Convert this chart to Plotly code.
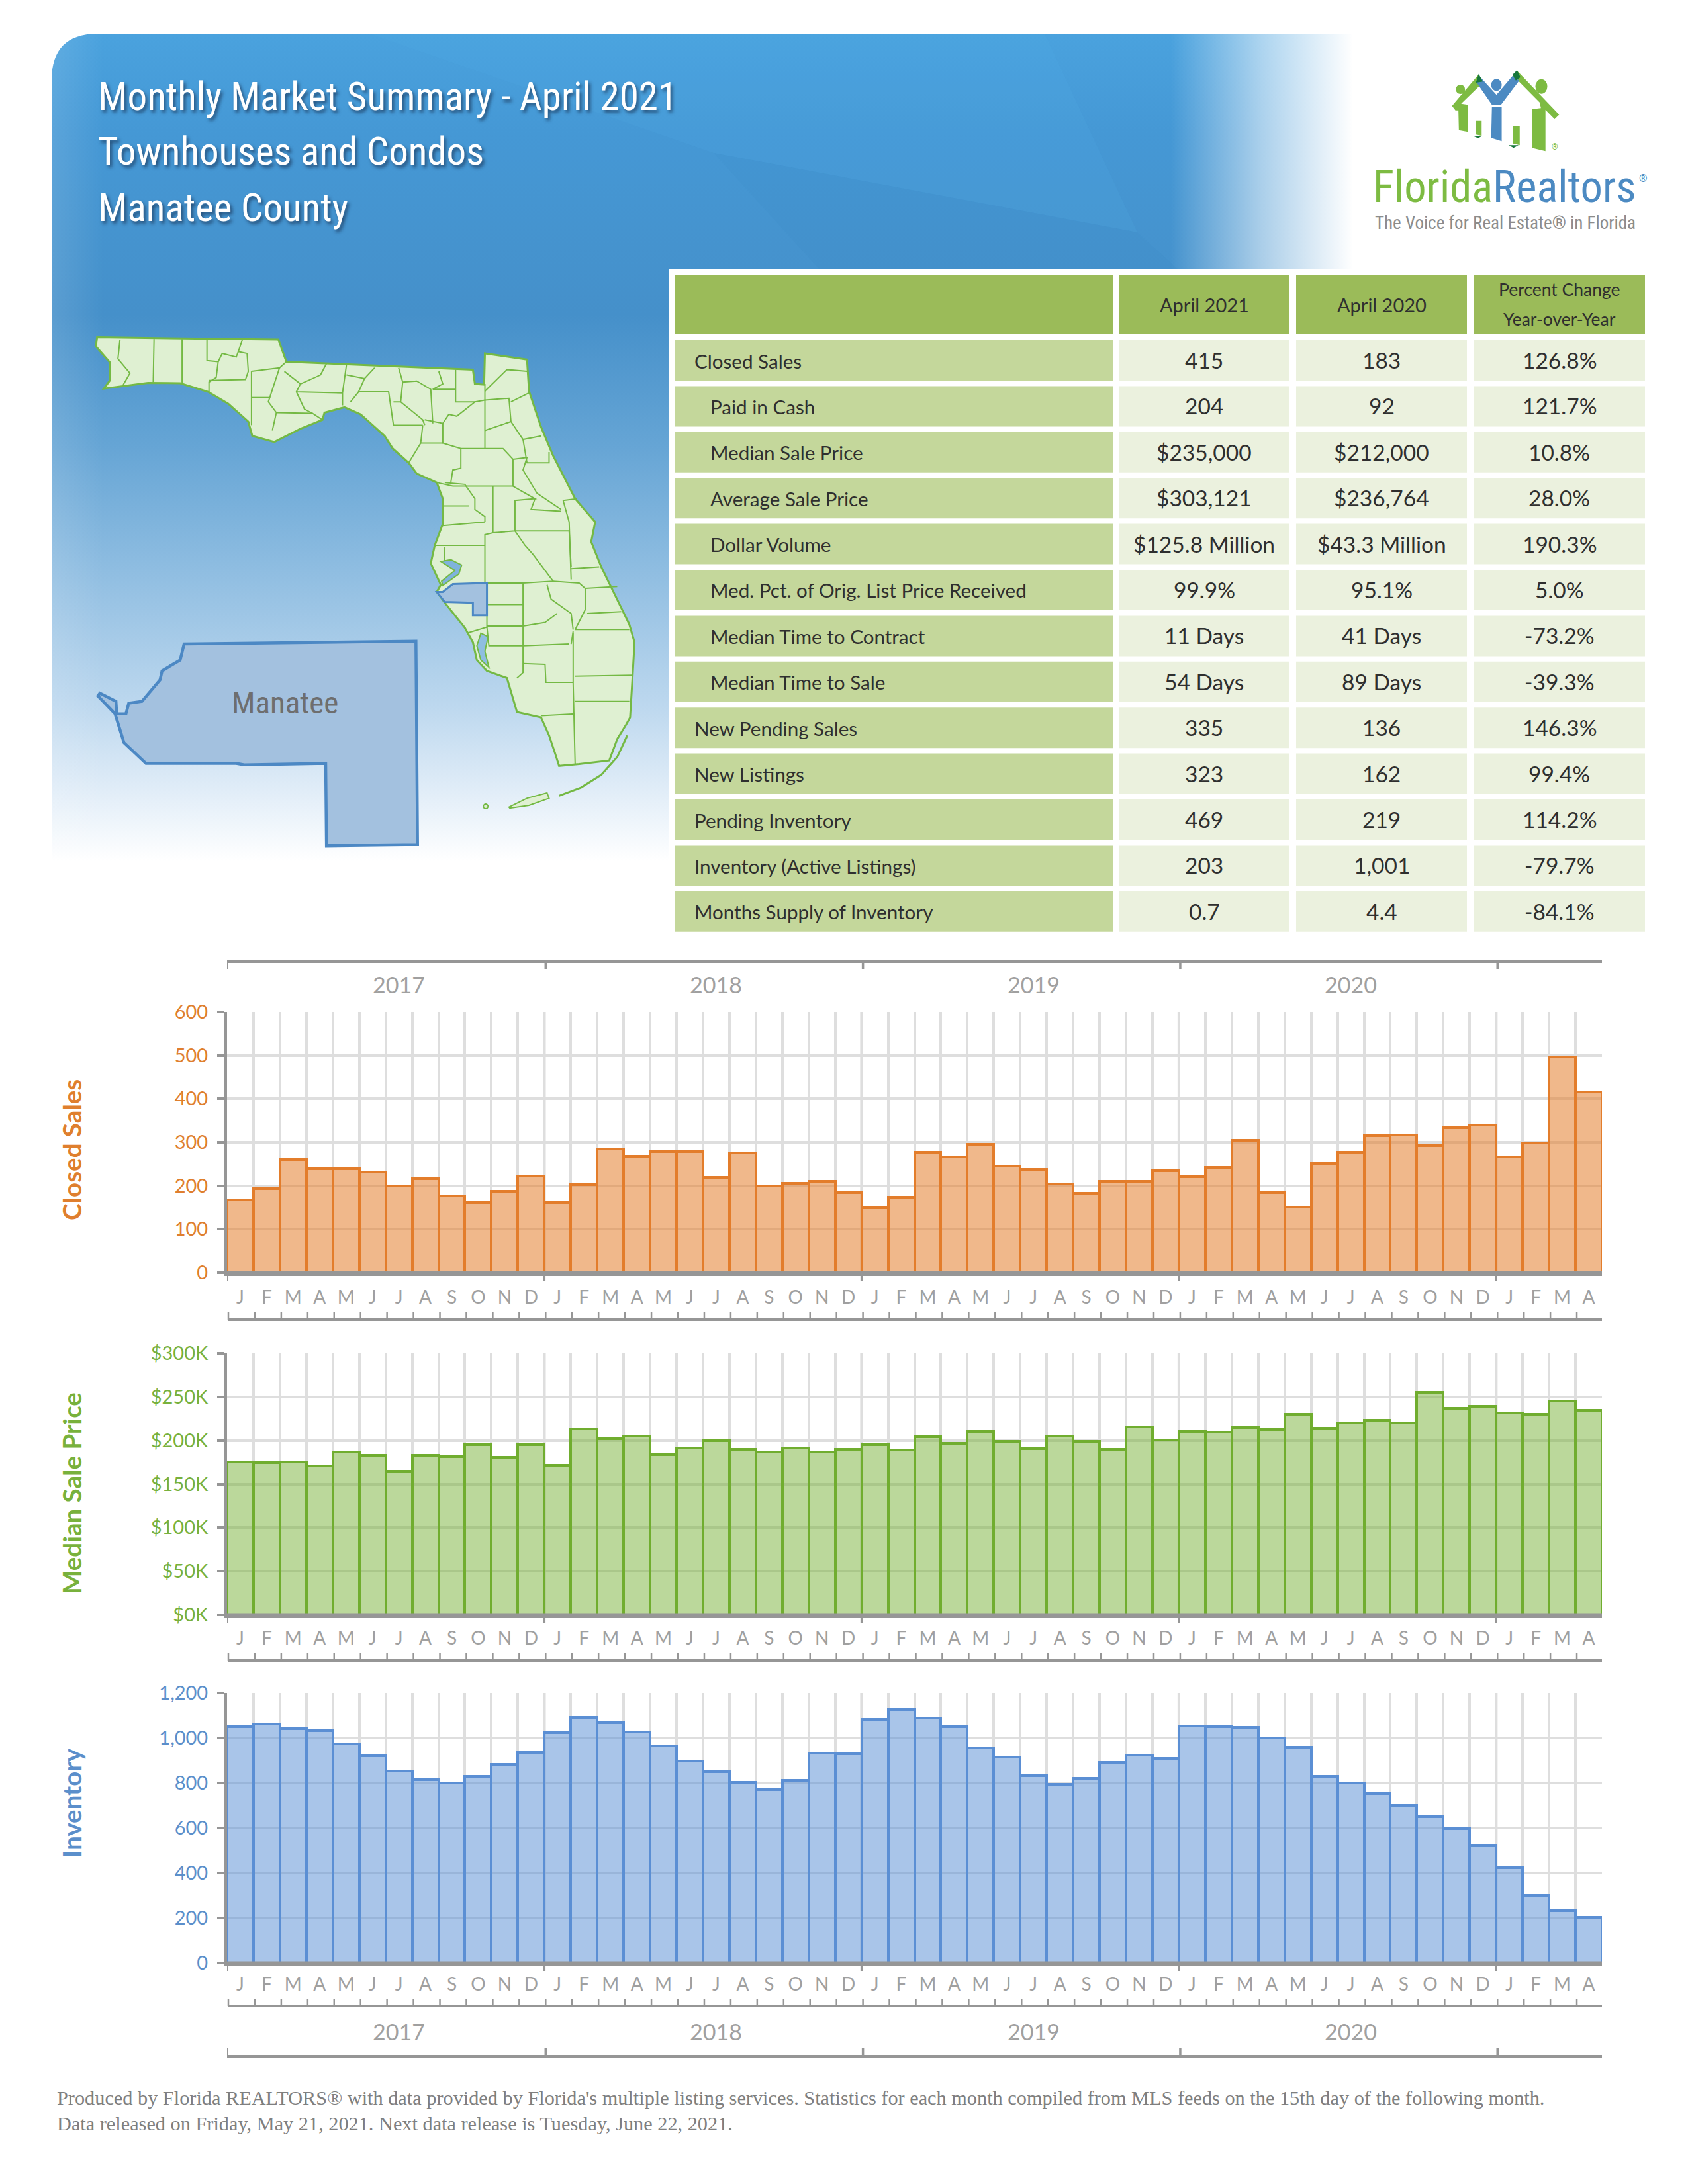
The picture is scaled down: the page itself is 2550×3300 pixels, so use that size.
import base64

import plotly.graph_objects as go

WIDTH = 2550
HEIGHT = 3300

YEARS = ["2017", "2018", "2019", "2020"]
MONTH_LETTERS = ["J", "F", "M", "A", "M", "J", "J", "A", "S", "O", "N", "D"]
MONTH_LETTERS_2021 = ["J", "F", "M", "A"]

closed_sales = [168, 193, 261, 239, 239, 232, 200, 217, 176, 162, 187, 222,
                161, 203, 285, 268, 278, 278, 219, 275, 200, 206, 210, 184,
                149, 174, 277, 267, 296, 245, 238, 204, 182, 210, 210, 234,
                221, 242, 305, 184, 151, 252, 277, 315, 316, 292, 333, 340,
                267, 299, 496, 415]
median_price = [175500, 175000, 175500, 171000, 186500, 183000, 165000, 183000, 181500, 195000, 181000, 195000,
                172000, 213500, 202000, 205000, 184000, 191500, 200000, 190000, 187000, 191500, 186500, 190000,
                195000, 189000, 204000, 197000, 210500, 199000, 191000, 205000, 199000, 190000, 215500, 200500,
                210500, 210000, 215000, 212500, 230000, 214000, 220000, 223000, 220000, 255000, 237000, 239000,
                231500, 230000, 245000, 235000]
inventory = [1050, 1061, 1040, 1031, 974, 922, 853, 814, 799, 829, 881, 935,
             1025, 1092, 1067, 1026, 964, 896, 850, 803, 772, 811, 932, 929,
             1081, 1126, 1087, 1050, 956, 915, 832, 794, 822, 890, 924, 910,
             1053, 1051, 1047, 1001, 960, 829, 799, 753, 701, 649, 596, 522,
             425, 301, 231, 203]

closed_ticks = [0, 100, 200, 300, 400, 500, 600]
closed_tick_labels = ["0", "100", "200", "300", "400", "500", "600"]
price_ticks = [0, 50000, 100000, 150000, 200000, 250000, 300000]
price_tick_labels = ["$0K", "$50K", "$100K", "$150K", "$200K", "$250K", "$300K"]
inventory_ticks = [0, 200, 400, 600, 800, 1000, 1200]
inventory_tick_labels = ["0", "200", "400", "600", "800", "1,000", "1,200"]

table_headers = ["April 2021", "April 2020", "Percent Change<br>Year-over-Year"]
table_labels = ["Closed Sales", "Paid in Cash", "Median Sale Price", "Average Sale Price", "Dollar Volume",
                "Med. Pct. of Orig. List Price Received", "Median Time to Contract", "Median Time to Sale",
                "New Pending Sales", "New Listings", "Pending Inventory", "Inventory (Active Listings)",
                "Months Supply of Inventory"]
table_indented = [False, True, True, True, True, True, True, True, False, False, False, False, False]
table_2021 = ["415", "204", "$235,000", "$303,121", "$125.8 Million", "99.9%", "11 Days", "54 Days",
              "335", "323", "469", "203", "0.7"]
table_2020 = ["183", "92", "$212,000", "$236,764", "$43.3 Million", "95.1%", "41 Days", "89 Days",
              "136", "162", "219", "1,001", "4.4"]
table_change = ["126.8%", "121.7%", "10.8%", "28.0%", "190.3%", "5.0%", "-73.2%", "-39.3%",
                "146.3%", "99.4%", "114.2%", "-79.7%", "-84.1%"]

title_lines = ["Monthly Market Summary - April 2021", "Townhouses and Condos", "Manatee County"]
footer_lines = ["Produced by Florida REALTORS® with data provided by Florida's multiple listing services. "
                "Statistics for each month compiled from MLS feeds on the 15th day of the following month.",
                "Data released on Friday, May 21, 2021. Next data release is Tuesday, June 22, 2021."]

# month keys have to be unique, the axis shows the letters instead
month_keys = [f"{y}-{i}" for y in YEARS for i in range(12)] + [f"2021-{i}" for i in range(4)]
month_letters = MONTH_LETTERS * 4 + MONTH_LETTERS_2021

NARROW = "Roboto Condensed"
GRAY = "#A0A0A0"
AXIS_GRAY = "#969696"


def px(x):
    return x / WIDTH


def py(y):
    return 1 - y / HEIGHT


def path_from(points, closed=True):
    d = "M " + " L ".join(f"{px(x):.5f},{py(y):.5f}" for x, y in points)
    return d + (" Z" if closed else "")


# trace coordinates below were taken from crops, these put them back on the page
def map_xy(points):
    return [(60 + x / 1.6505, 450 + y / 1.845) for x, y in points]


def logo_xy(points):
    return [(1980 + x / 2.904, 60 + y / 3.0) for x, y in points]


shapes = []
annotations = []


def add_text(x, y, text, size, color, font=NARROW, anchor="left", **kw):
    font_kw = dict(family=font, size=size, color=color)
    font_kw.update(kw.pop("font_extra", {}))
    annotations.append(dict(x=px(x), y=py(y), xref="paper", yref="paper", text=text, showarrow=False,
                            xanchor=anchor, yanchor="middle", font=font_kw, **kw))


def add_poly(points, fill, line=None, width=0, closed=True):
    shapes.append(dict(type="path", path=path_from(points, closed), xref="paper", yref="paper",
                       fillcolor=fill if closed else "rgba(0,0,0,0)",
                       line=dict(color=line or "rgba(0,0,0,0)", width=width), layer="above"))


def add_rect(x0, y0, x1, y1, fill):
    shapes.append(dict(type="rect", xref="paper", yref="paper", x0=px(x0), x1=px(x1), y0=py(y0), y1=py(y1),
                       fillcolor=fill, line=dict(width=0), layer="above"))


def add_oval(cx, cy, rx, ry, fill, line=None, width=0):
    shapes.append(dict(type="circle", xref="paper", yref="paper", x0=px(cx - rx), x1=px(cx + rx),
                       y0=py(cy + ry), y1=py(cy - ry), fillcolor=fill,
                       line=dict(color=line or "rgba(0,0,0,0)", width=width), layer="above"))


# ---- header panel, gradient is easiest as an svg image
panel_svg = """<svg xmlns="http://www.w3.org/2000/svg" width="1966" height="1250" viewBox="0 0 1966 1250">
<defs>
<linearGradient id="v" x1="0" y1="0" x2="0" y2="1">
<stop offset="0" stop-color="#4AA2DE"/><stop offset="0.12" stop-color="#4598D5"/>
<stop offset="0.34" stop-color="#4590CA"/><stop offset="0.5" stop-color="#66A5D5"/>
<stop offset="0.66" stop-color="#92BFE2"/><stop offset="0.82" stop-color="#BFD9EF"/>
<stop offset="0.93" stop-color="#E6F0F9"/><stop offset="1" stop-color="#FFFFFF"/>
</linearGradient>
<linearGradient id="h" x1="0" y1="0" x2="1" y2="0">
<stop offset="0.86" stop-color="#FFFFFF" stop-opacity="0"/><stop offset="0.93" stop-color="#FFFFFF" stop-opacity="0.55"/>
<stop offset="1" stop-color="#FFFFFF" stop-opacity="1"/>
</linearGradient>
<linearGradient id="l" x1="0" y1="0" x2="1" y2="0">
<stop offset="0" stop-color="#FFFFFF" stop-opacity="0.12"/><stop offset="0.04" stop-color="#FFFFFF" stop-opacity="0"/>
</linearGradient>
</defs>
<path d="M0,1250 L0,70 Q0,0 70,0 L1966,0 L1966,1250 Z" fill="url(#v)"/>
<path d="M480,0 L1500,0 L1640,300 L1000,180 Z" fill="#58B4EA" fill-opacity="0.14"/>
<path d="M1000,180 L1640,300 L1750,400 L1200,400 Z" fill="#2F7DBB" fill-opacity="0.07"/>
<path d="M0,1250 L0,70 Q0,0 70,0 L1966,0 L1966,1250 Z" fill="url(#h)"/>
<path d="M0,1250 L0,70 Q0,0 70,0 L1966,0 L1966,1250 Z" fill="url(#l)"/>
</svg>"""
panel_uri = "data:image/svg+xml;base64," + base64.b64encode(panel_svg.encode()).decode()
images = [dict(source=panel_uri, xref="paper", yref="paper", x=px(78), y=py(51), sizex=1966 / WIDTH,
               sizey=1250 / HEIGHT, xanchor="left", yanchor="top", sizing="stretch", layer="below")]

title_shadow = dict(shadow="3px 4px 5px rgba(20,40,70,0.65)")
for y, line in zip([146, 229, 313], title_lines):
    add_text(146, y, line, 59, "white", font_extra=title_shadow)

# ---- Florida map
florida_outline = [(143, 110), (595, 116), (615, 178), (1080, 200), (1085, 240), (1108, 242), (1110, 155), (1215, 172),
                   (1220, 260), (1250, 360), (1280, 440), (1335, 560), (1385, 625), (1375, 680), (1400, 750),
                   (1470, 910), (1483, 960), (1478, 1060), (1472, 1170), (1462, 1190), (1440, 1230), (1420, 1290),
                   (1345, 1300), (1295, 1305), (1285, 1270), (1270, 1220), (1250, 1170), (1190, 1155), (1165, 1060),
                   (1115, 1040), (1090, 1010), (1080, 960), (1060, 920), (1010, 850), (990, 820), (1000, 800),
                   (975, 740), (985, 690), (1005, 630), (1005, 560), (990, 515), (940, 490), (920, 460), (880, 420),
                   (860, 385), (800, 325), (760, 305), (710, 320), (705, 340), (650, 365), (585, 402), (530, 385),
                   (520, 345), (470, 295), (420, 262), (350, 238), (270, 237), (160, 253), (175, 230), (175, 180),
                   (140, 135)]
county_lines = [
    [(200, 118), (195, 170), (225, 210), (208, 243)], [(285, 115), (283, 235)], [(355, 115), (355, 238)],
    [(417, 118), (417, 175), (445, 178), (440, 222), (422, 235), (422, 262)],
    [(445, 178), (455, 155), (490, 165), (495, 150), (505, 118)],
    [(495, 150), (517, 155), (520, 205), (513, 228), (422, 230)], [(528, 205), (528, 355)],
    [(528, 205), (598, 195), (615, 178)], [(528, 278), (575, 278)],
    [(598, 195), (570, 290), (590, 320), (580, 370)], [(590, 320), (680, 322), (705, 340)],
    [(610, 205), (650, 240), (700, 215), (715, 183)], [(650, 240), (640, 262), (755, 265)],
    [(640, 262), (660, 310), (680, 322)], [(755, 300), (755, 265), (765, 185)],
    [(765, 215), (810, 225), (835, 195)], [(810, 225), (795, 262), (870, 262), (882, 355), (955, 355)],
    [(775, 290), (795, 262)], [(882, 290), (900, 290), (955, 340), (960, 355)],
    [(895, 195), (905, 235), (900, 290)], [(905, 235), (940, 232), (975, 255), (980, 350)],
    [(995, 205), (1005, 240), (980, 255), (1035, 255)], [(1037, 200), (1037, 290), (1085, 290), (1110, 285)],
    [(1085, 290), (1040, 330), (1020, 325), (1005, 350), (960, 340)], [(1110, 240), (1110, 420)],
    [(1110, 285), (1170, 280), (1175, 345), (1110, 370)], [(1005, 350), (1005, 405), (1050, 420), (1110, 420)],
    [(1110, 260), (1165, 200), (1215, 205)], [(1175, 290), (1220, 265)],
    [(1175, 345), (1205, 395), (1250, 385)], [(1205, 395), (1215, 460), (1270, 460), (1270, 430)],
    [(955, 355), (950, 405), (1005, 405)], [(950, 405), (920, 460)],
    [(1050, 420), (1050, 475), (1030, 480), (1025, 515)],
    [(1110, 420), (1155, 420), (1180, 450), (1180, 525), (1030, 525)],
    [(1180, 450), (1215, 445), (1205, 480), (1240, 545), (1300, 590)], [(1030, 525), (990, 515)],
    [(1130, 525), (1130, 655)],
    [(1180, 525), (1235, 560), (1185, 565), (1185, 650), (1130, 655), (1110, 660), (1110, 795)],
    [(1235, 560), (1225, 590), (1300, 595)], [(1010, 515), (1060, 520), (1085, 560), (1085, 590), (1110, 610), (1110, 625)],
    [(1005, 580), (1070, 580)], [(1005, 635), (1110, 625)], [(985, 690), (1110, 690)], [(1010, 695), (1010, 735)],
    [(1185, 650), (1320, 650), (1325, 750)], [(1305, 565), (1340, 560)], [(1305, 565), (1320, 625), (1325, 785)],
    [(1185, 650), (1210, 690), (1230, 715), (1280, 790), (1205, 795), (1115, 795)], [(1325, 755), (1395, 750)],
    [(1280, 790), (1345, 795), (1360, 810), (1360, 870), (1335, 925)], [(1360, 810), (1440, 805)],
    [(1365, 880), (1450, 875)], [(1335, 925), (1470, 925)], [(1330, 935), (1330, 1075), (1335, 1300)],
    [(1335, 1055), (1478, 1052)], [(1335, 1125), (1470, 1125)], [(1250, 1165), (1335, 1160)],
    [(1265, 800), (1275, 840), (1325, 880), (1330, 925)], [(1205, 795), (1205, 1045), (1190, 1060)],
    [(1115, 795), (1115, 920)], [(1115, 855), (1205, 855)], [(1115, 915), (1205, 915), (1260, 905), (1290, 880)],
    [(1065, 935), (1115, 918), (1120, 970), (1205, 970), (1320, 965)],
    [(1205, 1020), (1260, 1022), (1262, 1072), (1330, 1072)], [(1325, 965), (1330, 930)],
]
MAP_FILL = "#DFF0D2"
MAP_LINE = "#74B944"
BLUE_FILL = "#A3C1DF"
BLUE_LINE = "#4C88C4"
add_poly(map_xy(florida_outline), MAP_FILL, MAP_LINE, 3)
for seg in county_lines:
    add_poly(map_xy(seg), None, MAP_LINE, 2, closed=False)
# bays
add_poly(map_xy([(1000, 735), (1025, 730), (1052, 745), (1045, 770), (1005, 802), (1002, 790), (1035, 760)]),
         "#7FB3DC", MAP_LINE, 2)
add_poly(map_xy([(1100, 935), (1118, 945), (1110, 985), (1120, 1030), (1100, 1010), (1090, 970)]),
         "#8FBEE0", MAP_LINE, 2)
# keys
add_poly(map_xy([(1170, 1420), (1215, 1395), (1265, 1380), (1270, 1395), (1220, 1415), (1172, 1423)]), MAP_FILL, MAP_LINE, 2)
add_poly(map_xy([(1295, 1388), (1350, 1365), (1400, 1330), (1440, 1280), (1465, 1220)]), None, MAP_LINE, 3, closed=False)
add_oval(60 + 1112 / 1.6505, 450 + 1418 / 1.845, 3.5, 3.5, MAP_FILL, MAP_LINE, 2)
# county on the map and the enlarged copy
add_poly(map_xy([(990, 820), (1005, 820), (1030, 798), (1115, 795), (1115, 885), (1080, 885), (1080, 850), (1010, 848)]),
         BLUE_FILL, BLUE_LINE, 3)
manatee_big = [(360, 965), (938, 957), (942, 1525), (715, 1528), (713, 1298), (510, 1302), (490, 1298), (265, 1298),
               (210, 1240), (188, 1160), (145, 1110), (150, 1102), (190, 1125), (192, 1160), (215, 1160), (222, 1130),
               (255, 1125), (300, 1065), (305, 1040), (350, 1010)]
add_poly(map_xy(manatee_big), BLUE_FILL, BLUE_LINE, 4.5)
add_text(430, 1062, "Manatee", 47, "#6E6E6E", anchor="center")

# ---- logo
LOGO_GREEN = "#7DBB42"
LOGO_DARK = "#17773C"
LOGO_BLUE = "#4C8AC2"
add_poly(logo_xy([(620, 300), (735, 160), (755, 195), (660, 290), (690, 295), (690, 418), (650, 410), (648, 320), (635, 320)]), LOGO_GREEN)
add_poly(logo_xy([(890, 165), (905, 140), (1090, 340), (1070, 360), (1030, 318), (1030, 505), (970, 490), (970, 315), (1010, 310), (1005, 285)]), LOGO_GREEN)
add_poly(logo_xy([(725, 190), (745, 170), (815, 250), (885, 165), (915, 185), (835, 295), (795, 295)]), LOGO_BLUE)
add_poly(logo_xy([(795, 305), (838, 305), (838, 460), (792, 445)]), LOGO_BLUE)
add_poly(logo_xy([(725, 368), (750, 368), (750, 435), (725, 430)]), LOGO_GREEN)
add_poly(logo_xy([(887, 392), (917, 392), (917, 478), (887, 470)]), LOGO_GREEN)
add_poly(logo_xy([(737, 155), (755, 190), (725, 195)]), LOGO_DARK)
add_poly(logo_xy([(905, 138), (920, 170), (900, 185), (885, 160)]), LOGO_DARK)
add_poly(logo_xy([(712, 436), (752, 436), (735, 446)]), LOGO_DARK)
add_poly(logo_xy([(868, 478), (912, 478), (890, 490)]), LOGO_DARK)
add_oval(1980 + 657 / 2.904, 60 + 225 / 3, 7, 7, LOGO_GREEN)
add_oval(1980 + 815 / 2.904, 60 + 205 / 3, 8, 9, LOGO_BLUE)
add_oval(1980 + 1012 / 2.904, 60 + 212 / 3, 9, 11, LOGO_GREEN)
add_text(2072, 282, f"<span style='color:{LOGO_GREEN}'>Florida</span><span style='color:{LOGO_BLUE}'>Realtors</span>", 66.5, LOGO_GREEN)
add_text(2474, 270, "®", 16, LOGO_BLUE)
add_text(2075, 337, "The Voice for Real Estate® in Florida", 27, "#8C8C8C")
add_text(2342, 222, "®", 12, LOGO_GREEN)

# ---- summary table
TABLE_HEAD = "#9BBB59"
TABLE_LABEL = "#C4D79B"
TABLE_VALUE = "#EBF1DE"
TABLE_TEXT = "#2F2F2F"
col_edges = [(1020, 1681), (1690, 1948), (1958, 2216), (2226, 2485)]

add_rect(1011, 407, 2494, 1416, "white")
for x0, x1 in col_edges:
    add_rect(x0, 415, x1, 505, TABLE_HEAD)
for (x0, x1), head in zip(col_edges[1:], table_headers):
    if "<br>" in head:
        top, bottom = head.split("<br>")
        add_text((x0 + x1) / 2, 437, top, 26.5, TABLE_TEXT, font="Lato", anchor="center")
        add_text((x0 + x1) / 2, 482, bottom, 26.5, TABLE_TEXT, font="Lato", anchor="center")
    else:
        add_text((x0 + x1) / 2, 460, head, 29, TABLE_TEXT, font="Lato", anchor="center")

for i, label in enumerate(table_labels):
    top = 514 + i * 69.4
    bottom = top + 61
    mid = top + 31
    add_rect(col_edges[0][0], top, col_edges[0][1], bottom, TABLE_LABEL)
    add_text(1071 if table_indented[i] else 1047, mid, label, 29.6, TABLE_TEXT, font="Lato")
    for (x0, x1), val in zip(col_edges[1:], [table_2021[i], table_2020[i], table_change[i]]):
        add_rect(x0, top, x1, bottom, TABLE_VALUE)
        add_text((x0 + x1) / 2, mid - 1, val, 33.5, TABLE_TEXT, font="Lato", anchor="center")

# ---- the three bar charts
charts = [
    dict(name="Closed Sales", values=closed_sales, ticks=closed_ticks, labels=closed_tick_labels, top=1529, bottom=1923,
         line="#E37D2B", fill="rgba(227,125,43,0.55)", text="#DF7F2E", title_y=1738, bracket=71, standoff=8),
    dict(name="Median Sale Price", values=median_price, ticks=price_ticks, labels=price_tick_labels, top=2045, bottom=2440,
         line="#70AD2F", fill="rgba(112,173,47,0.48)", text="#78B13C", title_y=2257, bracket=69, standoff=6),
    dict(name="Inventory", values=inventory, ticks=inventory_ticks, labels=inventory_tick_labels, top=2558, bottom=2966,
         line="#5B8FD4", fill="rgba(91,143,212,0.52)", text="#5B8FCB", title_y=2724, bracket=65, standoff=3),
]
PLOT_LEFT = 343
PLOT_RIGHT = 2420

fig = go.Figure()
layout_axes = {}
for n, chart in enumerate(charts, start=1):
    xname = "x" if n == 1 else f"x{n}"
    yname = "y" if n == 1 else f"y{n}"
    xkey = "xaxis" if n == 1 else f"xaxis{n}"
    ykey = "yaxis" if n == 1 else f"yaxis{n}"

    fig.add_trace(go.Bar(x=month_keys, y=chart["values"], xaxis=xname, yaxis=yname, width=1, name=chart["name"],
                         marker=dict(color=chart["fill"], line=dict(color=chart["line"], width=4)),
                         showlegend=False))

    layout_axes[xkey] = dict(domain=[px(PLOT_LEFT), px(PLOT_RIGHT)], anchor=yname, type="category", automargin=False,
                             categoryorder="array", categoryarray=month_keys, range=[-0.5, 51.5],
                             tickmode="array", tickvals=month_keys, ticktext=month_letters, tickson="boundaries",
                             ticks="", ticklabelstandoff=chart["standoff"], tickangle=0,
                             tickfont=dict(family="Lato", size=28, color=GRAY),
                             showgrid=True, gridcolor="#DEDEDE", gridwidth=4,
                             showline=True, linecolor=AXIS_GRAY, linewidth=5, zeroline=False)
    layout_axes[ykey] = dict(domain=[py(chart["bottom"]), py(chart["top"])], anchor=xname, automargin=False,
                             range=[0, chart["ticks"][-1]], tickmode="array", tickvals=chart["ticks"],
                             ticktext=chart["labels"], ticks="outside", ticklen=11, tickwidth=4, tickcolor=AXIS_GRAY,
                             ticklabelstandoff=8, tickfont=dict(family="Lato", size=29, color=chart["text"]),
                             showgrid=True, gridcolor="#DEDEDE", gridwidth=4,
                             showline=True, linecolor=AXIS_GRAY, linewidth=4, zeroline=False)

    # stronger lines between the years, behind the bars
    for b in [11.5, 23.5, 35.5, 47.5]:
        shapes.append(dict(type="line", xref=xname, yref=yname, x0=b, x1=b, y0=0, y1=chart["ticks"][-1],
                           line=dict(color="#C8C8C8", width=4), layer="below"))
    # bar outlines paint over the axis, so redraw the base line on top
    shapes.append(dict(type="line", xref=xname, yref="paper", x0=-0.5, x1=51.5, y0=py(chart["bottom"]),
                       y1=py(chart["bottom"]), line=dict(color=AXIS_GRAY, width=5), layer="above"))
    # year ticks under the axis
    for b in [-0.5, 11.5, 23.5, 35.5, 47.5]:
        shapes.append(dict(type="line", xref=xname, yref="paper", x0=b, x1=b, y0=py(chart["bottom"]),
                           y1=py(chart["bottom"] + 12), line=dict(color=AXIS_GRAY, width=3.5)))

    # month bracket below the letters
    bracket_y = chart["bottom"] + chart["bracket"]
    shapes.append(dict(type="line", xref=xname, yref="paper", x0=-0.45, x1=51.55, y0=py(bracket_y), y1=py(bracket_y),
                       line=dict(color=AXIS_GRAY, width=4)))
    for k in range(53):
        shapes.append(dict(type="line", xref=xname, yref="paper", x0=k - 0.45, x1=k - 0.45, y0=py(bracket_y),
                           y1=py(bracket_y - 11), line=dict(color=AXIS_GRAY, width=2.5)))

    annotations.append(dict(x=px(108), y=py(chart["title_y"]), xref="paper", yref="paper", text=chart["name"],
                            textangle=-90, showarrow=False, xanchor="center", yanchor="middle",
                            font=dict(family="Lato", size=38.5, color=chart["text"], weight="bold")))


def add_year_band(xname, line_y, tick_end_y, label_y):
    shapes.append(dict(type="line", xref=xname, yref="paper", x0=-0.5, x1=51.55, y0=py(line_y), y1=py(line_y),
                       line=dict(color=AXIS_GRAY, width=4)))
    for b in [-0.5, 11.55, 23.55, 35.55, 47.55]:
        shapes.append(dict(type="line", xref=xname, yref="paper", x0=b, x1=b, y0=py(line_y), y1=py(tick_end_y),
                           line=dict(color=AXIS_GRAY, width=3.5)))
    for idx, year in zip([6, 18, 30, 42], YEARS):
        annotations.append(dict(x=idx, y=py(label_y), xref=xname, yref="paper", text=year, showarrow=False,
                                xanchor="center", yanchor="middle", font=dict(family="Lato", size=34, color=GRAY)))


add_year_band("x", 1453, 1464, 1487)
add_year_band("x3", 3107, 3095, 3069)

# ---- footer
for y, line in zip([3170, 3209], footer_lines):
    add_text(84, y, line, 30.3, "#7F7F7F", font="Liberation Serif")

fig.update_layout(width=WIDTH, height=HEIGHT, margin=dict(l=0, r=0, t=0, b=0, pad=0), paper_bgcolor="white",
                  plot_bgcolor="white", barmode="overlay", bargap=0, showlegend=False, shapes=shapes,
                  annotations=annotations, images=images, **layout_axes)

fig.write_html("out.html", config={"displayModeBar": False},
               post_script="document.body.style.margin='0';document.body.style.overflow='hidden';")
